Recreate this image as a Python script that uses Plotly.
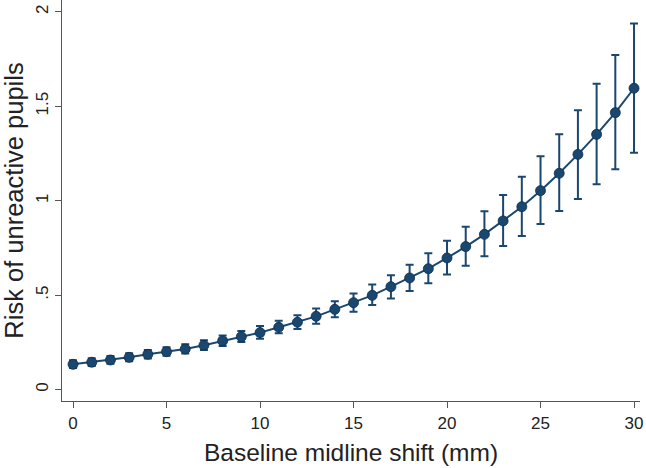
import plotly.graph_objects as go

shift_mm = list(range(0, 31))
risk = [0.134, 0.145, 0.157, 0.171, 0.187, 0.201, 0.215, 0.235, 0.258, 0.280,
        0.302, 0.330, 0.357, 0.388, 0.425, 0.460, 0.499, 0.545, 0.591, 0.640,
        0.697, 0.757, 0.822, 0.893, 0.968, 1.053, 1.145, 1.245, 1.351, 1.466,
        1.595]
lower = [0.114, 0.125, 0.137, 0.150, 0.165, 0.179, 0.192, 0.210, 0.231, 0.252,
         0.270, 0.298, 0.321, 0.349, 0.383, 0.412, 0.448, 0.483, 0.522, 0.563,
         0.609, 0.656, 0.706, 0.760, 0.813, 0.876, 0.946, 1.009, 1.087, 1.166,
         1.254]
upper = [0.155, 0.166, 0.178, 0.193, 0.210, 0.224, 0.240, 0.262, 0.287, 0.310,
         0.337, 0.365, 0.394, 0.429, 0.468, 0.509, 0.556, 0.605, 0.661, 0.722,
         0.788, 0.862, 0.944, 1.030, 1.127, 1.235, 1.351, 1.478, 1.619, 1.771,
         1.937]
y_tickvals = [0, 0.5, 1, 1.5, 2]
y_ticktext = ["0", ".5", "1", "1.5", "2"]
x_tickvals = [0, 5, 10, 15, 20, 25, 30]

navy = "#1a476f"

err_plus = [u - r for u, r in zip(upper, risk)]
err_minus = [r - l for r, l in zip(risk, lower)]

fig = go.Figure()
fig.add_trace(go.Scatter(
    x=shift_mm, y=risk, mode="lines+markers",
    line=dict(color=navy, width=2),
    marker=dict(color=navy, size=10, line=dict(color="#0f2d4a", width=0.8)),
    error_y=dict(type="data", symmetric=False, array=err_plus,
                 arrayminus=err_minus, color=navy, thickness=2, width=4),
    showlegend=False,
))

axis_font = dict(family="Liberation Sans, Arial, sans-serif", size=17, color="#222222")

fig.update_layout(
    width=646, height=468,
    margin=dict(l=62, r=6, t=0, b=67),
    paper_bgcolor="white", plot_bgcolor="white",
    font=dict(family="Liberation Sans, Arial, sans-serif", color="#222222"),
    xaxis=dict(
        range=[-0.59, 30.32], tickvals=x_tickvals,
        ticks="outside", ticklen=6, tickwidth=1, tickcolor="#555555",
        showline=True, linecolor="#555555", linewidth=1.2,
        showgrid=False, zeroline=False, tickfont=axis_font,
        title=dict(text="Baseline midline shift (mm)",
                   font=dict(size=24.5, color="#222222"), standoff=12),
    ),
    yaxis=dict(
        range=[-0.06, 2.062], tickvals=y_tickvals, ticktext=y_ticktext,
        tickangle=-90,
        ticks="outside", ticklen=6, tickwidth=1, tickcolor="#555555",
        showline=True, linecolor="#555555", linewidth=1.2,
        showgrid=False, zeroline=False, tickfont=axis_font,
        title=dict(text="Risk of unreactive pupils",
                   font=dict(size=25.5, color="#222222"), standoff=6),
    ),
)

fig.write_html("out.html", config={"displayModeBar": False},
               post_script="document.body.style.margin='0';document.body.style.overflow='hidden';")
